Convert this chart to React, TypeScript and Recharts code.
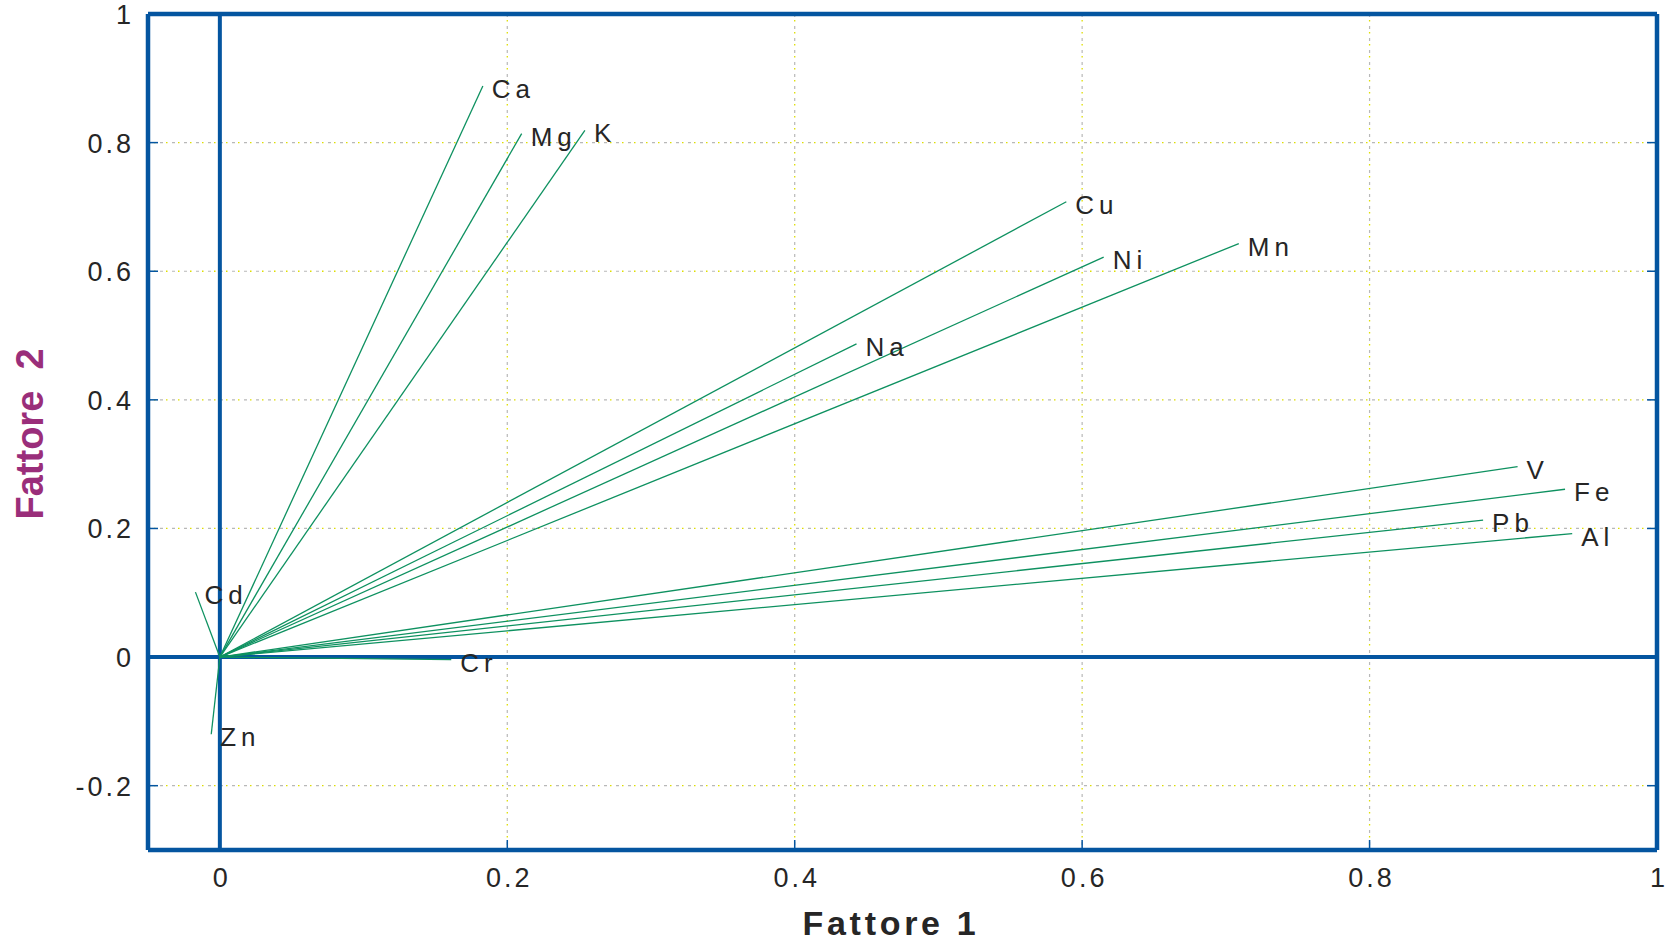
import {
  ScatterChart,
  Scatter,
  XAxis,
  YAxis,
  CartesianGrid,
  ReferenceLine,
} from 'recharts'

// loadings: Fattore 1 / Fattore 2
const ELEMENTS = ['Ca', 'Mg', 'K', 'Cu', 'Ni', 'Mn', 'Na', 'V', 'Fe', 'Pb', 'Al', 'Cd', 'Cr', 'Zn']
const FATTORE_1 = [0.183, 0.21, 0.254, 0.589, 0.615, 0.709, 0.443, 0.903, 0.936, 0.879, 0.941, -0.017, 0.161, -0.006]
const FATTORE_2 = [0.888, 0.814, 0.819, 0.708, 0.622, 0.643, 0.487, 0.296, 0.261, 0.213, 0.192, 0.101, -0.004, -0.12]

const X_TICKS = [0, 0.2, 0.4, 0.6, 0.8, 1]
const Y_TICKS = [-0.2, 0, 0.2, 0.4, 0.6, 0.8, 1]
const X_DOMAIN = [-0.05, 1]
const Y_DOMAIN = [-0.3, 1]

const BLUE = '#0455A0'
const GREEN = '#0E9160'
const TEXT = '#262626'
const PURPLE = '#9A2E7A'
const FONT = '"Liberation Sans", Arial, sans-serif'

const vectors = ELEMENTS.map((name, i) => ({
  name,
  data: [
    { x: 0, y: 0 },
    { x: FATTORE_1[i], y: FATTORE_2[i], name },
  ],
}))

const fmt = (v: number) => (v === 0 ? '0' : v === 1 ? '1' : String(v))

const LeftTick = (props: any) => {
  const { x, y, payload } = props
  return (
    <g>
      <line x1={x + 14} x2={x + 24} y1={y} y2={y} stroke={BLUE} strokeWidth={1.5} />
      <text x={x} y={y + 10} textAnchor="end" fontSize={27} letterSpacing={3} fill={TEXT} fontFamily={FONT}>
        {fmt(payload.value)}
      </text>
    </g>
  )
}

const BottomTick = (props: any) => {
  const { x, y, payload } = props
  return (
    <g>
      <line x1={x} x2={x} y1={y - 28} y2={y - 38} stroke={BLUE} strokeWidth={1.5} />
      <text x={x + 2} y={y + 9} textAnchor="middle" fontSize={27} letterSpacing={3} fill={TEXT} fontFamily={FONT}>
        {fmt(payload.value)}
      </text>
    </g>
  )
}

const RightTick = (props: any) => {
  const { x, y } = props
  return <line x1={x} x2={x - 10} y1={y} y2={y} stroke={BLUE} strokeWidth={1.5} />
}

const TopTick = (props: any) => {
  const { x, y } = props
  return <line x1={x} x2={x} y1={y} y2={y + 10} stroke={BLUE} strokeWidth={1.5} />
}

const EndLabel = (props: any) => {
  const { cx, cy, payload } = props
  if (!payload || !payload.name) return <g />
  return (
    <text
      x={cx + 9}
      y={cy + 3}
      dominantBaseline="central"
      fontSize={26}
      letterSpacing={5}
      fill={TEXT}
      fontFamily={FONT}
    >
      {payload.name}
    </text>
  )
}

export default function App() {
  return (
    <div style={{ position: 'absolute', left: 0, top: 0, background: '#fff' }}>
      <ScatterChart width={1675} height={941} margin={{ top: 0, right: 0, bottom: 0, left: 0 }}>
        <CartesianGrid stroke="#b8b8b8" strokeDasharray="3 9" strokeWidth={1.2} />
        <CartesianGrid stroke="#dede00" strokeDasharray="1.5 10.5" strokeDashoffset={-6} strokeWidth={1.3} />
        <XAxis
          type="number"
          dataKey="x"
          domain={X_DOMAIN}
          ticks={X_TICKS}
          allowDataOverflow
          height={91}
          axisLine={false}
          tickSize={0}
          tickMargin={28}
          tick={<BottomTick />}
          interval={0}
        />
        <XAxis
          xAxisId="t"
          orientation="top"
          type="number"
          domain={X_DOMAIN}
          ticks={X_TICKS}
          allowDataOverflow
          height={14}
          axisLine={false}
          tickSize={0}
          tickMargin={0}
          tick={<TopTick />}
          interval={0}
        />
        <YAxis
          type="number"
          dataKey="y"
          domain={Y_DOMAIN}
          ticks={Y_TICKS}
          allowDataOverflow
          width={148}
          axisLine={false}
          tickSize={0}
          tickMargin={14}
          tick={<LeftTick />}
          interval={0}
        />
        <YAxis
          yAxisId="r"
          orientation="right"
          type="number"
          domain={Y_DOMAIN}
          ticks={Y_TICKS}
          allowDataOverflow
          width={18}
          axisLine={false}
          tickSize={0}
          tickMargin={0}
          tick={<RightTick />}
          interval={0}
        />

        <ReferenceLine x={0} stroke={BLUE} strokeWidth={4} />
        <ReferenceLine y={0} stroke={BLUE} strokeWidth={4} />
        <ReferenceLine x={X_DOMAIN[0]} stroke={BLUE} strokeWidth={4.5} />
        <ReferenceLine x={X_DOMAIN[1]} stroke={BLUE} strokeWidth={4.5} />
        <ReferenceLine y={Y_DOMAIN[0]} stroke={BLUE} strokeWidth={4.5} />
        <ReferenceLine y={Y_DOMAIN[1]} stroke={BLUE} strokeWidth={4.5} />

        {vectors.map(v => (
          <Scatter
            key={v.name}
            name={v.name}
            data={v.data}
            line={{ stroke: GREEN, strokeWidth: 1.3 }}
            shape={<EndLabel />}
            isAnimationActive={false}
          />
        ))}

        <text
          x={891}
          y={935}
          textAnchor="middle"
          fontSize={34}
          fontWeight="bold"
          letterSpacing={3.7}
          fill={TEXT}
          fontFamily={FONT}
        >
          Fattore 1
        </text>
        <text
          x={43}
          y={434}
          transform="rotate(-90 43 434)"
          textAnchor="middle"
          fontSize={38}
          fontWeight="bold"
          fill={PURPLE}
          fontFamily={FONT}
          style={{ whiteSpace: 'pre' }}
        >
          Fattore  2
        </text>
      </ScatterChart>
    </div>
  )
}
